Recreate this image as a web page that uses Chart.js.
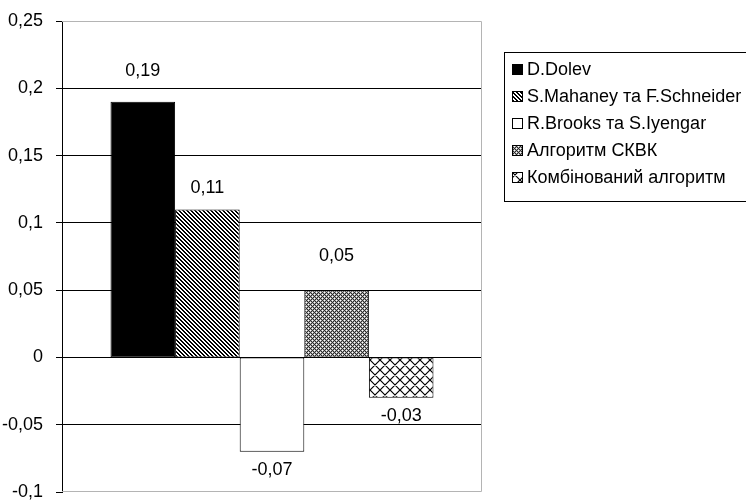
<!DOCTYPE html>
<html>
<head>
<meta charset="utf-8">
<script src="https://cdn.jsdelivr.net/npm/chart.js@4/dist/chart.umd.min.js"></script>
<style>
  html, body { margin: 0; padding: 0; background: #fff; }
  canvas { display: block; }
</style>
</head>
<body>
<canvas id="chart" width="746" height="501"></canvas>
<script>
// Comparison of algorithms: one value per algorithm
const categories = [''];
const seriesNames = [
  'D.Dolev',
  'S.Mahaney та F.Schneider',
  'R.Brooks та S.Iyengar',
  'Алгоритм СКВК',
  'Комбінований алгоритм'
];
const seriesValues = [0.19, 0.11, -0.07, 0.05, -0.03];
const tickLabels = ['-0,1', '-0,05', '0', '0,05', '0,1', '0,15', '0,2', '0,25'];

const FONT = '"Liberation Sans", Arial, sans-serif';

// Fill patterns for the bars
function makeTile(size, draw) {
  const c = document.createElement('canvas');
  c.width = size; c.height = size;
  const g = c.getContext('2d');
  draw(g, size);
  return g.createPattern(c, 'repeat');
}

const solidBlack = '#000000';
const stripes = makeTile(4, (g, s) => {
  g.fillStyle = '#fff'; g.fillRect(0, 0, s, s);
  g.fillStyle = '#000';
  for (let y = 0; y < s; y++) for (let x = 0; x < s; x++) {
    if ((((x - y) % 4) + 4) % 4 < 2) g.fillRect(x, y, 1, 1);
  }
});
const white = '#ffffff';
const fineCheck = makeTile(4, (g, s) => {
  g.fillStyle = '#2a2a2a'; g.fillRect(0, 0, s, s);
  const dot = (x, y, c) => { g.fillStyle = c; g.fillRect(x, y, 1, 1); };
  [[0, 0], [2, 2]].forEach(([cx, cy]) => {
    dot(cx, cy, '#ffffff');
    [[1, 0], [-1, 0], [0, 1], [0, -1]].forEach(([dx, dy]) => {
      dot((cx + dx + 4) % 4, (cy + dy + 4) % 4, '#a8a8a8');
    });
  });
});
const crossHatch = makeTile(10, (g, s) => {
  g.fillStyle = '#fff'; g.fillRect(0, 0, s, s);
  g.strokeStyle = '#000'; g.lineWidth = 1.2;
  g.beginPath();
  for (let k = -1; k <= 1; k++) {
    g.moveTo(k * s, 0); g.lineTo(k * s + s, s);
    g.moveTo(k * s + s, 0); g.lineTo(k * s, s);
  }
  g.stroke();
});
const fills = [solidBlack, stripes, white, fineCheck, crossHatch];

// Gap in px between a bar end and its value label
const labelGap = [31, 21, 18, 34, 18];

const datasets = seriesNames.map((name, i) => ({
  label: name,
  data: [seriesValues[i]],
  backgroundColor: fills[i],
  borderColor: '#000',
  borderWidth: 1,
  borderSkipped: false,
  categoryPercentage: 0.769,
  barPercentage: 1.0
}));

const plotFrame = {
  id: 'plotFrame',
  beforeDatasetsDraw(chart) {
    const { ctx, chartArea: a } = chart;
    ctx.save();
    ctx.strokeStyle = '#b4b4b4';
    ctx.lineWidth = 1;
    ctx.beginPath();
    ctx.moveTo(a.left, a.top + 0.5);
    ctx.lineTo(a.right - 0.5, a.top + 0.5);
    ctx.lineTo(a.right - 0.5, a.bottom - 0.5);
    ctx.lineTo(a.left, a.bottom - 0.5);
    ctx.stroke();
    ctx.restore();
  }
};

const valueLabels = {
  id: 'valueLabels',
  afterDatasetsDraw(chart) {
    const { ctx } = chart;
    ctx.save();
    ctx.font = '18px ' + FONT;
    ctx.fillStyle = '#000';
    ctx.textAlign = 'center';
    ctx.textBaseline = 'middle';
    chart.data.datasets.forEach((ds, i) => {
      const el = chart.getDatasetMeta(i).data[0];
      const v = ds.data[0];
      const txt = v.toFixed(2).replace('.', ',');
      const y = v >= 0 ? el.y - labelGap[i] : el.y + labelGap[i];
      ctx.fillText(txt, el.x, y);
    });
    ctx.restore();
  }
};

const sideLegend = {
  id: 'sideLegend',
  afterDraw(chart) {
    const { ctx } = chart;
    const left = 504, top = 52, height = 149, rowH = 27, firstRow = 69;
    ctx.save();
    ctx.strokeStyle = '#000';
    ctx.lineWidth = 1;
    ctx.strokeRect(left + 0.5, top + 0.5, 300, height);
    ctx.font = '18px ' + FONT;
    ctx.textBaseline = 'middle';
    ctx.textAlign = 'left';
    chart.data.datasets.forEach((ds, i) => {
      const cy = firstRow + i * rowH;
      ctx.fillStyle = ds.backgroundColor;
      ctx.fillRect(512, cy - 5, 11, 11);
      ctx.strokeStyle = '#000';
      ctx.strokeRect(512.5, cy - 4.5, 10, 10);
      ctx.fillStyle = '#000';
      ctx.fillText(ds.label, 527, cy + 1);
    });
    ctx.restore();
  }
};

new Chart(document.getElementById('chart'), {
  type: 'bar',
  data: { labels: categories, datasets },
  options: {
    responsive: false,
    animation: false,
    devicePixelRatio: 1,
    layout: { padding: { left: 0, right: 264, top: 21, bottom: 9 } },
    plugins: {
      legend: { display: false },
      tooltip: { enabled: false }
    },
    scales: {
      x: { display: false },
      y: {
        min: -0.1,
        max: 0.25,
        afterFit(scale) {
          scale.width = 62;
          scale.paddingTop = 0;
          scale.paddingBottom = 0;
        },
        ticks: {
          stepSize: 0.05,
          padding: 13,
          color: '#000',
          font: { family: FONT, size: 18 },
          callback: (v, idx) => tickLabels[idx]
        },
        grid: {
          color: (c) => (c.index === 0 || c.index === tickLabels.length - 1) ? 'rgba(0,0,0,0)' : '#000',
          tickColor: '#000',
          tickLength: 6,
          lineWidth: 1
        },
        border: { color: '#000', width: 1 }
      }
    }
  },
  plugins: [plotFrame, valueLabels, sideLegend]
});
</script>
</body>
</html>
